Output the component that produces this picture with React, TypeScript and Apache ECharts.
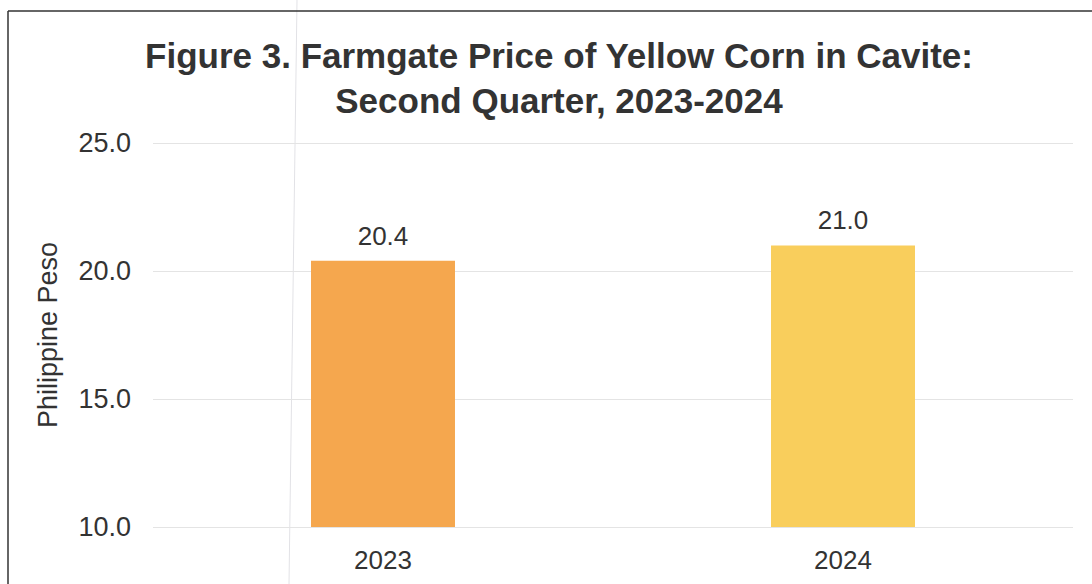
import React, { useEffect, useRef } from "react";
import * as echarts from "echarts";

const categories = ["2023", "2024"];
const values = [20.4, 21.0];
const barColors = ["#F5A74E", "#F9CE5C"];
const titleLines = ["Figure 3. Farmgate Price of Yellow Corn in Cavite:", "Second Quarter, 2023-2024"];
const yAxisName = "Philippine Peso";

const FONT = "Liberation Sans, Arial, sans-serif";

export default function App() {
  const ref = useRef<HTMLDivElement>(null);
  useEffect(() => {
    document.body.style.margin = "0";
    const chart = echarts.init(ref.current!, null, { renderer: "svg" });
    chart.setOption({
      animation: false,
      backgroundColor: "#ffffff",
      title: {
        text: titleLines.join("\n"),
        left: 554,
        top: 28,
        textAlign: "center",
        textStyle: {
          fontFamily: FONT,
          fontSize: 35,
          fontWeight: "bold",
          color: "#333333",
          lineHeight: 45,
        },
      },
      grid: { left: 153, right: 19, top: 143, bottom: 57 },
      xAxis: {
        type: "category",
        data: categories,
        axisLine: { show: false },
        axisTick: { show: false },
        axisLabel: {
          fontFamily: FONT,
          fontSize: 26,
          color: "#333333",
          margin: 20,
        },
      },
      yAxis: {
        type: "value",
        min: 10,
        max: 25,
        interval: 5,
        name: yAxisName,
        nameLocation: "middle",
        nameGap: 92,
        nameTextStyle: {
          fontFamily: FONT,
          fontSize: 27,
          color: "#333333",
        },
        axisLine: { show: false },
        axisTick: { show: false },
        axisLabel: {
          fontFamily: FONT,
          fontSize: 27,
          color: "#333333",
          margin: 22,
          formatter: (v: number) => v.toFixed(1),
        },
        splitLine: { lineStyle: { color: "#e4e4e4", width: 1 } },
      },
      series: [
        {
          type: "bar",
          barWidth: "31.3%",
          data: values.map((v, i) => ({ value: v, itemStyle: { color: barColors[i] } })),
          label: {
            show: true,
            position: "top",
            distance: 12,
            fontFamily: FONT,
            fontSize: 26,
            color: "#333333",
            formatter: (p: any) => Number(p.value).toFixed(1),
          },
        },
      ],
      graphic: [
        { type: "line", shape: { x1: 297, y1: 0, x2: 289, y2: 584 }, style: { stroke: "#e2e2e6", lineWidth: 1 }, z: 0 },
        { type: "line", shape: { x1: 8, y1: 11, x2: 1092, y2: 11 }, style: { stroke: "#333333", lineWidth: 1.5 } },
        { type: "line", shape: { x1: 8, y1: 11, x2: 8, y2: 584 }, style: { stroke: "#333333", lineWidth: 1.5 } },
      ],
    });
    return () => chart.dispose();
  }, []);
  return <div ref={ref} style={{ width: 1092, height: 584 }} />;
}
